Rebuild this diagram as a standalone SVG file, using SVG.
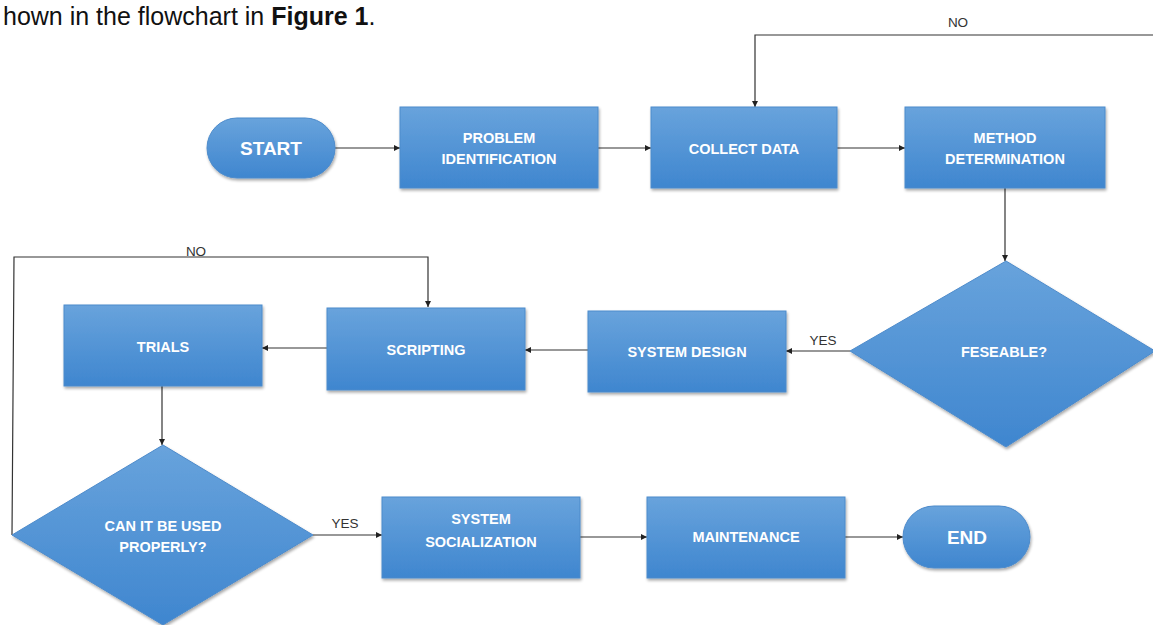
<svg xmlns="http://www.w3.org/2000/svg" width="1153" height="625" viewBox="0 0 1153 625">
<defs>
<linearGradient id="g" x1="0" y1="0" x2="0" y2="1">
<stop offset="0" stop-color="#68a3dc"/>
<stop offset="1" stop-color="#3f86cf"/>
</linearGradient>
<filter id="sh" x="-10%" y="-10%" width="130%" height="130%">
<feGaussianBlur in="SourceAlpha" stdDeviation="1.5"/>
<feOffset dx="1" dy="2" result="b"/>
<feComponentTransfer><feFuncA type="linear" slope="0.35"/></feComponentTransfer>
<feMerge><feMergeNode/><feMergeNode in="SourceGraphic"/></feMerge>
</filter>
<marker id="ah" viewBox="0 0 10 10" refX="10" refY="5" markerWidth="6" markerHeight="6" orient="auto" markerUnits="userSpaceOnUse">
<path d="M0,0 L10,5 L0,10 z" fill="#222"/>
</marker>
</defs>
<style>
.n{fill:url(#g);stroke:#4d8bcb;stroke-width:1;filter:url(#sh)}
.t{font-family:"Liberation Sans",Arial,sans-serif;font-weight:bold;font-size:14.5px;fill:#ffffff;text-anchor:middle}
.tb{font-family:"Liberation Sans",Arial,sans-serif;font-weight:bold;font-size:19px;fill:#ffffff;text-anchor:middle}
.c{fill:none;stroke:#333;stroke-width:1.2}
.a{marker-end:url(#ah)}
.l{font-family:"Liberation Sans",Arial,sans-serif;font-size:13.5px;fill:#333;text-anchor:middle}
.cap{font-family:"Liberation Sans",Arial,sans-serif;font-size:25px;fill:#111}
</style>
<rect width="1153" height="625" fill="#ffffff"/>
<text class="cap" x="3" y="25">hown in the flowchart in <tspan font-weight="bold">Figure 1</tspan>.</text>

<g id="connectors">
<path class="c a" d="M335,148 L400,148"/>
<path class="c a" d="M598,148 L651,148"/>
<path class="c a" d="M837,148 L905,148"/>
<path class="c a" d="M1153,35 L755,35 L755,107"/>
<path class="c a" d="M1005,188 L1005,261"/>
<path class="c a" d="M850,351 L786,351"/>
<path class="c a" d="M588,350 L525,350"/>
<path class="c a" d="M327,348 L262,348"/>
<path class="c a" d="M162,386 L162,445"/>
<path class="c a" d="M12,535 L14,257 L428,257 L428,307"/>
<path class="c a" d="M313,535 L382,535"/>
<path class="c a" d="M580,537 L647,537"/>
<path class="c a" d="M845,537 L903,537"/>
<text class="l" x="958" y="27">NO</text>
<text class="l" x="823" y="345">YES</text>
<text class="l" x="196" y="256">NO</text>
<text class="l" x="345" y="528">YES</text>
</g>

<g id="start"><rect class="n" x="207" y="118" width="128" height="60" rx="30"/><text class="tb" x="271" y="155">START</text></g>
<g id="problem"><rect class="n" x="400" y="107" width="198" height="81"/><text class="t" x="499" y="143">PROBLEM</text><text class="t" x="499" y="164">IDENTIFICATION</text></g>
<g id="collect"><rect class="n" x="651" y="107" width="186" height="81"/><text class="t" x="744" y="154">COLLECT DATA</text></g>
<g id="method"><rect class="n" x="905" y="107" width="200" height="81"/><text class="t" x="1005" y="143">METHOD</text><text class="t" x="1005" y="164">DETERMINATION</text></g>
<g id="feseable"><path class="n" d="M1006,261 L1155,351 L1006,447 L850,351 z"/><text class="t" x="1004" y="357">FESEABLE?</text></g>
<g id="design"><rect class="n" x="588" y="311" width="198" height="81"/><text class="t" x="687" y="357">SYSTEM DESIGN</text></g>
<g id="scripting"><rect class="n" x="327" y="308" width="198" height="82"/><text class="t" x="426" y="355">SCRIPTING</text></g>
<g id="trials"><rect class="n" x="64" y="305" width="198" height="81"/><text class="t" x="163" y="352">TRIALS</text></g>
<g id="canuse"><path class="n" d="M163,445 L313,535 L163,625 L12,535 z"/><text class="t" x="163" y="531">CAN IT BE USED</text><text class="t" x="163" y="552">PROPERLY?</text></g>
<g id="socialization"><rect class="n" x="382" y="497" width="198" height="81"/><text class="t" x="481" y="524">SYSTEM</text><text class="t" x="481" y="547">SOCIALIZATION</text></g>
<g id="maintenance"><rect class="n" x="647" y="497" width="198" height="81"/><text class="t" x="746" y="542">MAINTENANCE</text></g>
<g id="end"><rect class="n" x="903" y="506" width="127" height="62" rx="31"/><text class="tb" x="967" y="544">END</text></g>
</svg>
